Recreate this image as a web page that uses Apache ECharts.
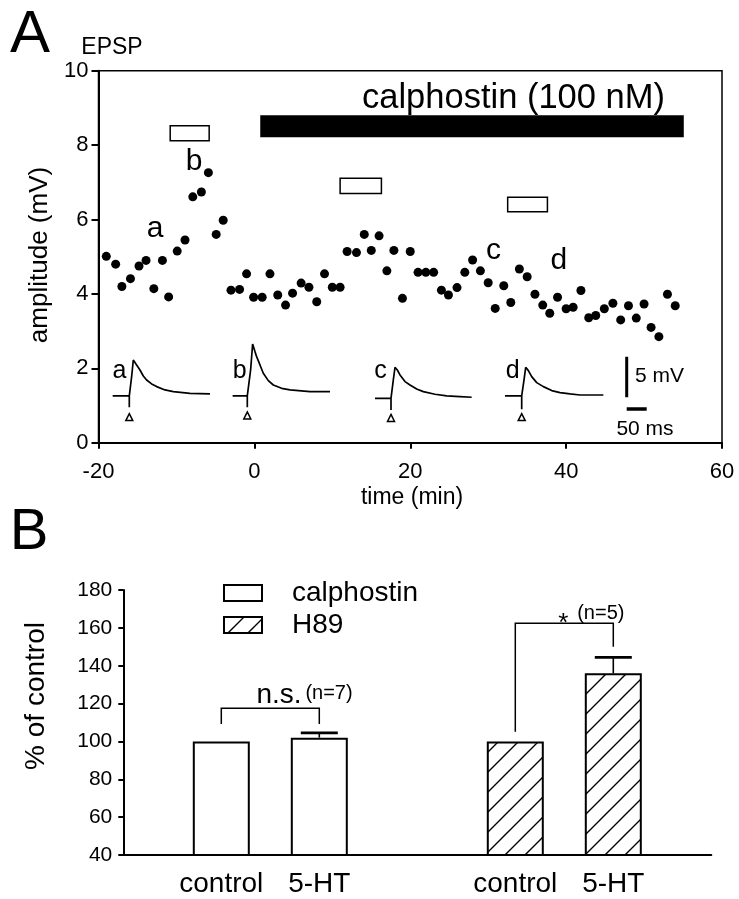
<!DOCTYPE html>
<html><head><meta charset="utf-8">
<script src="https://cdn.jsdelivr.net/npm/echarts@6/dist/echarts.min.js"></script>
<style>html,body{margin:0;padding:0;background:#fff}#c{width:739px;height:899px}</style>
</head><body><div id="c"></div>
<script>
const FONT = '"Liberation Sans", Arial, Helvetica, sans-serif';

// ---------- Panel A: EPSP amplitude time course ----------
const xTicksA = [-20, 0, 20, 40, 60];
const yTicksA = [0, 2, 4, 6, 8, 10];
const epspTime = [-19.0,-17.8,-17.0,-15.9,-14.8,-13.9,-12.9,-11.8,-11.0,-9.9,-8.9,-7.9,-6.8,-5.9,-4.9,-4.0,
  -3.0,-1.9,-1.0,-0.1,1.0,2.0,3.0,4.0,4.9,6.0,7.0,8.0,9.0,10.0,11.0,11.9,13.1,14.1,15.0,16.0,17.0,17.9,19.0,20.0,
  21.0,22.0,23.0,24.0,24.9,26.0,27.0,28.0,29.0,30.0,30.9,32.0,32.9,34.0,35.0,36.0,37.0,37.9,38.9,40.0,
  40.9,41.9,42.9,43.8,44.9,46.0,47.0,48.0,49.0,50.0,50.9,51.9,53.0,54.0];
const epspAmp = [5.01,4.80,4.20,4.41,4.75,4.90,4.14,4.90,3.92,5.15,5.45,6.61,6.74,7.26,5.60,5.98,
  4.10,4.12,4.54,3.91,3.91,4.54,3.97,3.70,4.02,4.29,4.18,3.79,4.54,4.18,4.18,5.14,5.11,5.60,5.17,5.56,4.62,5.17,3.88,5.14,
  4.58,4.58,4.58,4.10,3.97,4.17,4.58,4.91,4.62,4.30,3.61,4.22,3.77,4.67,4.46,3.99,3.70,3.48,3.91,3.60,
  3.64,4.09,3.36,3.42,3.60,3.75,3.30,3.68,3.35,3.73,3.10,2.85,3.99,3.68];

// application bars (open = 5-HT, filled = calphostin)
const appStart = [-10.8, 0.85, 11.0, 32.5];
const appEnd   = [-5.8, 55.0, 16.3, 37.6];
const appLow   = [8.12, 8.23, 6.70, 6.21];
const appHigh  = [8.52, 8.78, 7.11, 6.60];
const appFilled = [0, 1, 0, 0];

// sample EPSP traces: [ms from stimulus, mV]
const traceA = [[-41.6,0],[0,0],[0,-1.40],[0,0],[3.3,0],[5.9,2.4],[10,4.43],[18.3,3.82],[26.7,3.20],[35,2.46],[43.3,1.97],[55.8,1.48],[68.3,1.15],[89.2,0.74],[110,0.53],[151.7,0.33],[201.7,0.25]];
const traceB = [[-36.7,0],[0,0],[0,-1.40],[0,0],[3.3,0],[8.3,3.2],[13.3,6.40],[19.2,5.46],[23.3,4.84],[31.7,3.82],[40,2.79],[52.5,1.89],[65,1.35],[85.8,0.94],[106.7,0.74],[156.7,0.53],[206.7,0.53]];
const traceC = [[-40,-0.29],[0,-0.29],[0,-1.72],[0,-0.29],[2.5,-0.16],[5.8,1.97],[10,3.53],[15.8,3.20],[22.5,2.59],[35,1.77],[47.5,1.35],[64.2,0.86],[80.8,0.53],[110,0.21],[139.2,0],[172.5,-0.08],[201.7,-0.16]];
const traceD = [[-41.7,0],[0,0],[0,-1.64],[0,0],[2.5,0],[5.8,1.97],[10,3.53],[16.7,3.12],[25,2.38],[37.5,1.64],[54.2,1.15],[75,0.66],[95.8,0.41],[120.8,0.25],[145.8,0.12],[204.2,0.12]];
const traceStim = [[0,-2.6],[0,-2.4],[0,-2.7],[0,-2.6]];
const scaleBarMV = 5;
const scaleBarMS = 50;

// ---------- Panel B: % of control ----------
const catsB = ['', 'control', '5-HT', '', 'control', '5-HT', ''];
const yTicksB = [40, 60, 80, 100, 120, 140, 160, 180];
const calphostinMean = ['-', 100, 102, '-', '-', '-', '-'];
const calphostinSem  = ['-', 0, 2.5, '-', '-', '-', '-'];
const h89Mean = ['-', '-', '-', '-', 100, 136, '-'];
const h89Sem  = ['-', '-', '-', '-', 0, 8.4, '-'];
const bracketFrom = [1, 4];
const bracketTo = [2, 5];
const bracketLeftEnd = [109.2, 105.1];
const bracketTop = [117.5, 162.4];
const bracketRightEnd = [109.2, 150.0];

// ---------- helpers ----------
function hatchCanvas() {
  const c = document.createElement('canvas');
  c.width = 20; c.height = 20;
  const g = c.getContext('2d');
  g.fillStyle = '#fff'; g.fillRect(0, 0, 20, 20);
  g.strokeStyle = '#000'; g.lineWidth = 1.4;
  g.beginPath();
  g.moveTo(-2, 22); g.lineTo(22, -2);
  g.moveTo(-12, 12); g.lineTo(12, -12);
  g.moveTo(8, 32); g.lineTo(32, 8);
  g.stroke();
  return c;
}
const hatchFill = { image: hatchCanvas(), repeat: 'repeat' };

function txt(text, x, y, size, align, rot) {
  const el = { type: 'text', x: x, y: y, silent: true,
    style: { text: text, fontSize: size, fontFamily: FONT, fill: '#000', align: align || 'center', verticalAlign: 'middle' } };
  if (rot) el.rotation = rot;
  return el;
}

const epspData = epspTime.map((t, i) => [t, epspAmp[i]]);
const appData = appStart.map((s, i) => [s, appEnd[i], appLow[i], appHigh[i], appFilled[i]]);

const errData = [];
calphostinMean.forEach((m, i) => { if (m !== '-' && calphostinSem[i] > 0) errData.push([i, m, m + calphostinSem[i]]); });
h89Mean.forEach((m, i) => { if (m !== '-' && h89Sem[i] > 0) errData.push([i, m, m + h89Sem[i]]); });
const bracketData = bracketFrom.map((f, i) => [f, bracketTo[i], bracketLeftEnd[i], bracketTop[i], bracketRightEnd[i]]);

// trace grids (px geometry only)
const traceLeft = [109.3, 227.3, 371, 501.7];
const traces = [traceA, traceB, traceC, traceD];
const traceTop = 331, traceW = 104, traceH = 97.44;

const grids = [
  { left: 98.5, top: 70.7, width: 623.5, height: 372, show: true, borderColor: '#000', borderWidth: 1.5 }
];
traceLeft.forEach(l => grids.push({ left: l, top: traceTop, width: traceW, height: traceH }));
grids.push({ left: 626.7, top: traceTop, width: 20, height: traceH });
grids.push({ left: 123.3, top: 590, width: 588, height: 265 });

const axLine = { show: true, onZero: false, lineStyle: { color: '#000', width: 2 } };
const xAxes = [
  { type: 'value', gridIndex: 0, min: xTicksA[0], max: xTicksA[xTicksA.length - 1], interval: 20,
    axisLine: axLine, axisTick: { show: true, length: 6, lineStyle: { color: '#000', width: 2 } },
    splitLine: { show: false },
    axisLabel: { color: '#000', fontSize: 22, fontFamily: FONT, margin: 29, verticalAlign: 'middle' } }
];
const yAxes = [
  { type: 'value', gridIndex: 0, min: yTicksA[0], max: yTicksA[yTicksA.length - 1], interval: 2,
    axisLine: axLine, axisTick: { show: true, length: 7, lineStyle: { color: '#000', width: 2 } },
    splitLine: { show: false },
    axisLabel: { color: '#000', fontSize: 22, fontFamily: FONT, margin: 10 } }
];
for (let i = 1; i <= 4; i++) {
  xAxes.push({ type: 'value', gridIndex: i, min: -50, max: 210, show: false });
  yAxes.push({ type: 'value', gridIndex: i, min: -4, max: 8, show: false });
}
xAxes.push({ type: 'value', gridIndex: 5, min: 0, max: 50, show: false });
yAxes.push({ type: 'value', gridIndex: 5, min: -4, max: 8, show: false });
xAxes.push({ type: 'category', gridIndex: 6, data: catsB, boundaryGap: false,
  axisLine: axLine, axisTick: { show: false }, splitLine: { show: false },
  axisLabel: { color: '#000', fontSize: 28, fontFamily: FONT, margin: 29, verticalAlign: 'middle', interval: 0 } });
yAxes.push({ type: 'value', gridIndex: 6, min: yTicksB[0], max: yTicksB[yTicksB.length - 1], interval: 20,
  axisLine: axLine, axisTick: { show: true, length: 5, lineStyle: { color: '#000', width: 2 } },
  splitLine: { show: false },
  axisLabel: { color: '#000', fontSize: 21, fontFamily: FONT, margin: 11 } });

const series = [
  { type: 'custom', xAxisIndex: 0, yAxisIndex: 0, data: appData, encode: { x: [0, 1], y: [2, 3] }, z: 3,
    renderItem: function (params, api) {
      const p0 = api.coord([api.value(0), api.value(3)]);
      const p1 = api.coord([api.value(1), api.value(2)]);
      return { type: 'rect', shape: { x: p0[0], y: p0[1], width: p1[0] - p0[0], height: p1[1] - p0[1] },
        style: { fill: api.value(4) ? '#000' : '#fff', stroke: '#000', lineWidth: 1.5 } };
    } },
  { type: 'scatter', xAxisIndex: 0, yAxisIndex: 0, data: epspData, symbol: 'circle', symbolSize: 9,
    itemStyle: { color: '#000', opacity: 1 }, z: 4 }
];
traces.forEach((tr, i) => {
  series.push({ type: 'line', xAxisIndex: i + 1, yAxisIndex: i + 1, data: tr, showSymbol: false, symbol: 'none',
    lineStyle: { color: '#000', width: 1.7 }, z: 3 });
  series.push({ type: 'scatter', xAxisIndex: i + 1, yAxisIndex: i + 1, data: [traceStim[i]], symbol: 'triangle',
    symbolSize: [7, 7], itemStyle: { color: '#fff', borderColor: '#000', borderWidth: 1.5, opacity: 1 }, z: 3 });
});
series.push({ type: 'line', xAxisIndex: 5, yAxisIndex: 5, data: [[0, -0.16], [0, -0.16 + scaleBarMV]], showSymbol: false, symbol: 'none',
  lineStyle: { color: '#000', width: 3, cap: 'butt' } });
series.push({ type: 'line', xAxisIndex: 5, yAxisIndex: 5, data: [[0, -1.6], [scaleBarMS, -1.6]], showSymbol: false, symbol: 'none',
  lineStyle: { color: '#000', width: 3.5, cap: 'butt' } });

series.push({ name: 'calphostin', type: 'bar', xAxisIndex: 6, yAxisIndex: 6, data: calphostinMean, barWidth: 57, barGap: '-100%',
  itemStyle: { color: '#fff', borderColor: '#000', borderWidth: 2 }, z: 3 });
series.push({ name: 'H89', type: 'bar', xAxisIndex: 6, yAxisIndex: 6, data: h89Mean, barWidth: 57, barGap: '-100%',
  itemStyle: { color: hatchFill, borderColor: '#000', borderWidth: 2 }, z: 3 });
series.push({ type: 'custom', xAxisIndex: 6, yAxisIndex: 6, data: errData, encode: { x: 0, y: [1, 2] }, z: 4,
  renderItem: function (params, api) {
    const b = api.coord([api.value(0), api.value(1)]);
    const t = api.coord([api.value(0), api.value(2)]);
    return { type: 'group', children: [
      { type: 'line', shape: { x1: b[0], y1: b[1], x2: t[0], y2: t[1] }, style: { stroke: '#000', lineWidth: 1.6 } },
      { type: 'line', shape: { x1: t[0] - 18.5, y1: t[1], x2: t[0] + 18.5, y2: t[1] }, style: { stroke: '#000', lineWidth: 2.7 } }
    ] };
  } });
series.push({ type: 'custom', xAxisIndex: 6, yAxisIndex: 6, data: bracketData, encode: { x: [0, 1], y: [2, 3, 4] }, z: 4,
  renderItem: function (params, api) {
    const a = api.coord([api.value(0), api.value(2)]);
    const at = api.coord([api.value(0), api.value(3)]);
    const bt = api.coord([api.value(1), api.value(3)]);
    const b = api.coord([api.value(1), api.value(4)]);
    return { type: 'polyline', shape: { points: [a, at, bt, b] }, style: { fill: 'none', stroke: '#000', lineWidth: 1.5 } };
  } });

const graphic = [
  txt('A', 30, 35, 60),
  txt('EPSP', 112, 48, 23),
  txt('calphostin (100 nM)', 362, 98.5, 34.5, 'left'),
  txt('a', 155, 228.6, 30),
  txt('b', 194, 162, 30),
  txt('c', 493.5, 250.3, 30),
  txt('d', 558.8, 261, 30),
  txt('a', 119.4, 371.3, 25),
  txt('b', 239.7, 371.3, 25),
  txt('c', 380.5, 371.3, 25),
  txt('d', 512.7, 371.3, 25),
  txt('5 mV', 635, 376, 21, 'left'),
  txt('50 ms', 645, 429, 21),
  txt('amplitude (mV)', 40, 255, 26, 'center', Math.PI / 2),
  txt('time (min)', 412, 498, 23),
  txt('B', 29, 533, 58),
  txt('% of control', 36, 696, 28, 'center', Math.PI / 2),
  txt('n.s.', 279, 695, 28),
  txt('(n=7)', 329, 693.7, 20),
  txt('*', 563.3, 624.3, 26),
  txt('(n=5)', 600.8, 613.2, 20)
];

const chart = echarts.init(document.getElementById('c'), null, { renderer: 'canvas' });
chart.setOption({
  animation: false,
  backgroundColor: '#fff',
  textStyle: { fontFamily: FONT },
  grid: grids,
  xAxis: xAxes,
  yAxis: yAxes,
  legend: { data: ['calphostin', 'H89'], orient: 'vertical', left: 218, top: 574, itemWidth: 38, itemHeight: 16, itemGap: 4,
    icon: 'rect', selectedMode: false,
    textStyle: { fontSize: 28, color: '#000', fontFamily: FONT, padding: [0, 0, 0, 25] } },
  series: series,
  graphic: graphic
});
</script></body></html>
